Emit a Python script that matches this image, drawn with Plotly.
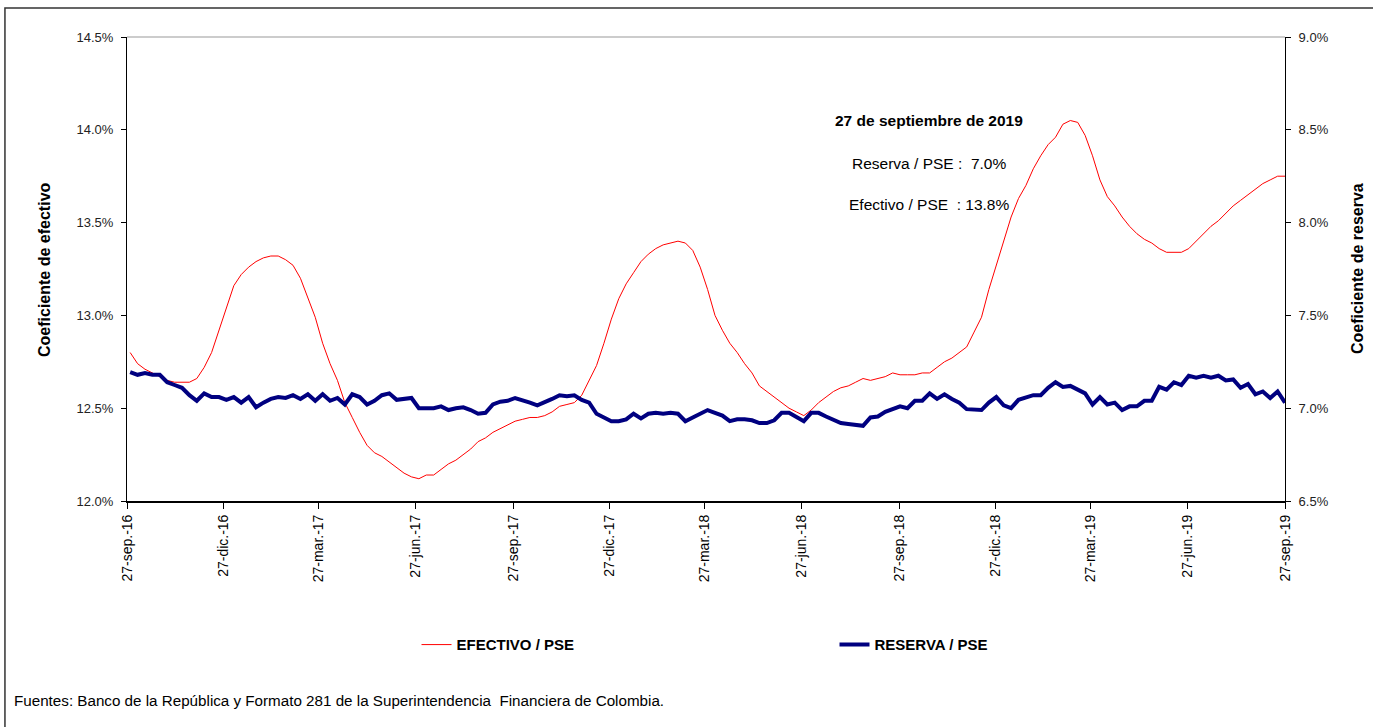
import pandas as pd
import plotly.graph_objects as go

# weekly observations (Fridays) 30-sep-16 ... 27-sep-19
fechas = pd.date_range('2016-09-30', '2019-09-27', freq='7D')

efectivo_pse = [
    12.80, 12.74, 12.71, 12.69, 12.67, 12.65, 12.64, 12.64, 12.64, 12.66,
    12.72, 12.80, 12.92, 13.05, 13.16, 13.22, 13.26, 13.29, 13.31, 13.32,
    13.32, 13.30, 13.27, 13.20, 13.10, 12.99, 12.85, 12.74, 12.65, 12.53,
    12.45, 12.37, 12.30, 12.26, 12.24, 12.21, 12.18, 12.15, 12.13, 12.12,
    12.14, 12.14, 12.17, 12.20, 12.22, 12.25, 12.28, 12.32, 12.34, 12.37,
    12.39, 12.41, 12.43, 12.44, 12.45, 12.45, 12.46, 12.48, 12.51, 12.52,
    12.53, 12.57, 12.65, 12.73, 12.85, 12.98, 13.09, 13.17, 13.23, 13.29,
    13.33, 13.36, 13.38, 13.39, 13.40, 13.39, 13.35, 13.26, 13.14, 13.00,
    12.92, 12.85, 12.80, 12.74, 12.69, 12.62, 12.59, 12.56, 12.53, 12.50,
    12.48, 12.46, 12.49, 12.53, 12.56, 12.59, 12.61, 12.62, 12.64, 12.66,
    12.65, 12.66, 12.67, 12.69, 12.68, 12.68, 12.68, 12.69, 12.69, 12.72,
    12.75, 12.77, 12.80, 12.83, 12.91, 12.99, 13.14, 13.27, 13.40, 13.53,
    13.63, 13.70, 13.79, 13.86, 13.92, 13.96, 14.03, 14.05, 14.04, 13.97,
    13.86, 13.73, 13.64, 13.59, 13.53, 13.48, 13.44, 13.41, 13.39, 13.36,
    13.34, 13.34, 13.34, 13.36, 13.40, 13.44, 13.48, 13.51, 13.55, 13.59,
    13.62, 13.65, 13.68, 13.71, 13.73, 13.75, 13.75,
]

reserva_pse = [
    7.195, 7.18, 7.19, 7.18, 7.18, 7.14, 7.125, 7.11, 7.07, 7.04,
    7.08, 7.06, 7.06, 7.045, 7.06, 7.03, 7.06, 7.005, 7.03, 7.05,
    7.06, 7.055, 7.07, 7.05, 7.075, 7.04, 7.075, 7.04, 7.055, 7.02,
    7.075, 7.06, 7.02, 7.04, 7.07, 7.08, 7.045, 7.05, 7.055, 7.00,
    7.00, 7.00, 7.01, 6.99, 7.00, 7.005, 6.99, 6.97, 6.975, 7.02,
    7.035, 7.04, 7.055, 7.045, 7.03, 7.015, 7.03, 7.05, 7.07, 7.065,
    7.07, 7.045, 7.03, 6.97, 6.95, 6.93, 6.93, 6.94, 6.97, 6.945,
    6.97, 6.975, 6.97, 6.975, 6.97, 6.93, 6.95, 6.97, 6.99, 6.975,
    6.96, 6.93, 6.94, 6.94, 6.935, 6.92, 6.92, 6.935, 6.975, 6.975,
    6.95, 6.93, 6.975, 6.975, 6.955, 6.935, 6.92, 6.915, 6.91, 6.905,
    6.95, 6.955, 6.98, 6.995, 7.01, 7.00, 7.04, 7.04, 7.08, 7.05,
    7.075, 7.05, 7.03, 6.995, 6.995, 6.99, 7.03, 7.06, 7.015, 7.00,
    7.045, 7.055, 7.07, 7.07, 7.11, 7.14, 7.115, 7.12, 7.10, 7.08,
    7.02, 7.06, 7.02, 7.03, 6.99, 7.01, 7.01, 7.04, 7.04, 7.115,
    7.10, 7.14, 7.125, 7.175, 7.165, 7.175, 7.165, 7.175, 7.15, 7.155,
    7.11, 7.13, 7.075, 7.09, 7.055, 7.09, 7.03,
]

tick_fechas = ['2016-09-27', '2016-12-27', '2017-03-27', '2017-06-27', '2017-09-27',
               '2017-12-27', '2018-03-27', '2018-06-27', '2018-09-27', '2018-12-27',
               '2019-03-27', '2019-06-27', '2019-09-27']
tick_textos = ['27-sep.-16', '27-dic.-16', '27-mar.-17', '27-jun.-17', '27-sep.-17',
               '27-dic.-17', '27-mar.-18', '27-jun.-18', '27-sep.-18', '27-dic.-18',
               '27-mar.-19', '27-jun.-19', '27-sep.-19']

arial = "Liberation Sans, Arial, sans-serif"

fig = go.Figure()
fig.add_trace(go.Scatter(x=fechas, y=efectivo_pse, name='<b>EFECTIVO / PSE</b>', mode='lines',
                         line=dict(color='#FF0000', width=1)))
fig.add_trace(go.Scatter(x=fechas, y=reserva_pse, name='<b>RESERVA / PSE</b>', mode='lines',
                         line=dict(color='#000080', width=4), yaxis='y2'))

fig.update_layout(
    width=1373, height=727,
    margin=dict(l=127, r=88, t=37, b=226),
    paper_bgcolor='white', plot_bgcolor='white',
    showlegend=True,
    legend=dict(orientation='h', x=0.25, y=-0.31, xanchor='left', yanchor='middle',
                entrywidth=373, entrywidthmode='pixels',
                font=dict(family=arial, size=15, color='black'),
                bgcolor='rgba(0,0,0,0)'),
    xaxis=dict(type='date', range=['2016-09-27', '2019-09-27'],
               tickvals=tick_fechas, ticktext=tick_textos, tickangle=-90,
               tickfont=dict(family=arial, size=14, color='black'),
               showline=True, linecolor='black', linewidth=2,
               ticks='outside', ticklen=6, tickcolor='black',
               showgrid=False, zeroline=False),
    yaxis=dict(range=[12.0, 14.5], dtick=0.5, tick0=12.0, tickformat='.1f', ticksuffix='%',
               tickfont=dict(family=arial, size=13, color='#222222'),
               showline=True, linecolor='black', linewidth=1,
               ticks='outside', ticklen=5, tickcolor='black', ticklabelstandoff=5,
               showgrid=False, zeroline=False),
    yaxis2=dict(range=[6.5, 9.0], dtick=0.5, tick0=6.5, tickformat='.1f', ticksuffix='%',
                overlaying='y', side='right',
                tickfont=dict(family=arial, size=13, color='#222222'),
                showline=True, linecolor='black', linewidth=1,
                ticks='outside', ticklen=5, tickcolor='black', ticklabelstandoff=5,
                showgrid=False, zeroline=False),
)

# outer frame and top border of the plot area
fig.add_shape(type='rect', xref='paper', yref='paper', x0=-0.1054, x1=1.2, y0=-0.6, y1=1.0625,
              line=dict(color='#333333', width=1.5))
fig.add_shape(type='line', xref='paper', yref='paper', x0=0, x1=1, y0=1, y1=1,
              line=dict(color='#999999', width=1))

# axis titles
fig.add_annotation(text='<b>Coeficiente de efectivo</b>', xref='paper', yref='paper',
                   x=-0.0717, y=0.5, xanchor='center', yanchor='middle', textangle=-90,
                   showarrow=False, font=dict(family=arial, size=16, color='black'))
fig.add_annotation(text='<b>Coeficiente de reserva</b>', xref='paper', yref='paper',
                   x=1.0622, y=0.5, xanchor='center', yanchor='middle', textangle=-90,
                   showarrow=False, font=dict(family=arial, size=16, color='black'))

# text box
fig.add_annotation(text='<b>27 de septiembre de 2019</b>', xref='paper', yref='paper',
                   x=0.6926, y=0.821, xanchor='center', yanchor='middle', showarrow=False,
                   font=dict(family=arial, size=15.5, color='black'))
fig.add_annotation(text='Reserva / PSE :  7.0%', xref='paper', yref='paper',
                   x=0.6926, y=0.7284, xanchor='center', yanchor='middle', showarrow=False,
                   font=dict(family=arial, size=15.5, color='black'))
fig.add_annotation(text='Efectivo / PSE  : 13.8%', xref='paper', yref='paper',
                   x=0.6926, y=0.638, xanchor='center', yanchor='middle', showarrow=False,
                   font=dict(family=arial, size=15.5, color='black'))

# source
fig.add_annotation(text='Fuentes: Banco de la República y Formato 281 de la Superintendencia  Financiera de Colombia.',
                   xref='paper', yref='paper', x=-0.0993, y=-0.4289, xanchor='left', yanchor='middle',
                   showarrow=False, font=dict(family=arial, size=15.2, color='black'))

fig.write_html("out.html", config={'displayModeBar': False},
               post_script="document.body.style.margin='0';")
